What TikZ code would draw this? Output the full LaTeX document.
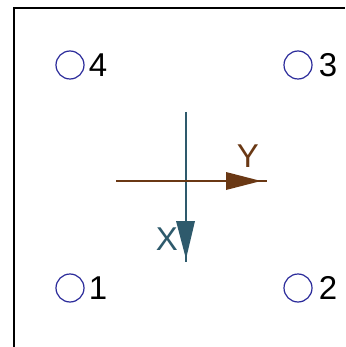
\documentclass[tikz,border=0pt]{standalone}
\usepackage{fontspec}
\setmainfont{Liberation Sans}
\definecolor{hole}{HTML}{2A2A9A}
\definecolor{xcol}{HTML}{2E5A6C}
\definecolor{ycol}{HTML}{6A3814}
\begin{document}
\begin{tikzpicture}[x=1pt,y=-1pt,
  hole/.style={circle,draw=hole,line width=1.2pt,minimum size=28pt,inner sep=0pt},
  num/.style={font=\fontsize{33}{34}\selectfont,text=black,inner sep=0pt},
  axlab/.style={font=\fontsize{33}{34}\selectfont,inner sep=0pt}]
\useasboundingbox (0,0) rectangle (345,347);
\fill[white] (0,0) rectangle (345,347);
\draw[black,line width=1.5pt] (14,347) -- (14,8) -- (345,8);
% holes
\node[hole] (c4) at (70,65) {};
\node[hole] (c3) at (298,65) {};
\node[hole] (c1) at (70,288) {};
\node[hole] (c2) at (298,288) {};
\node[num] (l4) at (98,65) {4};
\node[num] (l3) at (328,65) {3};
\node[num] (l1) at (98,288) {1};
\node[num] (l2) at (328,288) {2};
% axes
\coordinate (xt) at (186,112);
\coordinate (xb) at (186,262);
\coordinate (yl) at (116,181);
\coordinate (yr) at (267,181);
\draw[xcol,line width=1.3pt] (xt) -- (xb);
\draw[ycol,line width=1.3pt] (yl) -- (yr);
\fill[ycol] (226,172) -- (226,190) -- (261,181) -- cycle;
\fill[xcol] (176,221) -- (195,221) -- (186,259) -- cycle;
\node[axlab,text=ycol] (ylab) at (248,156) {Y};
\node[axlab,text=xcol] (xlab) at (167,239) {X};
\end{tikzpicture}
\end{document}
